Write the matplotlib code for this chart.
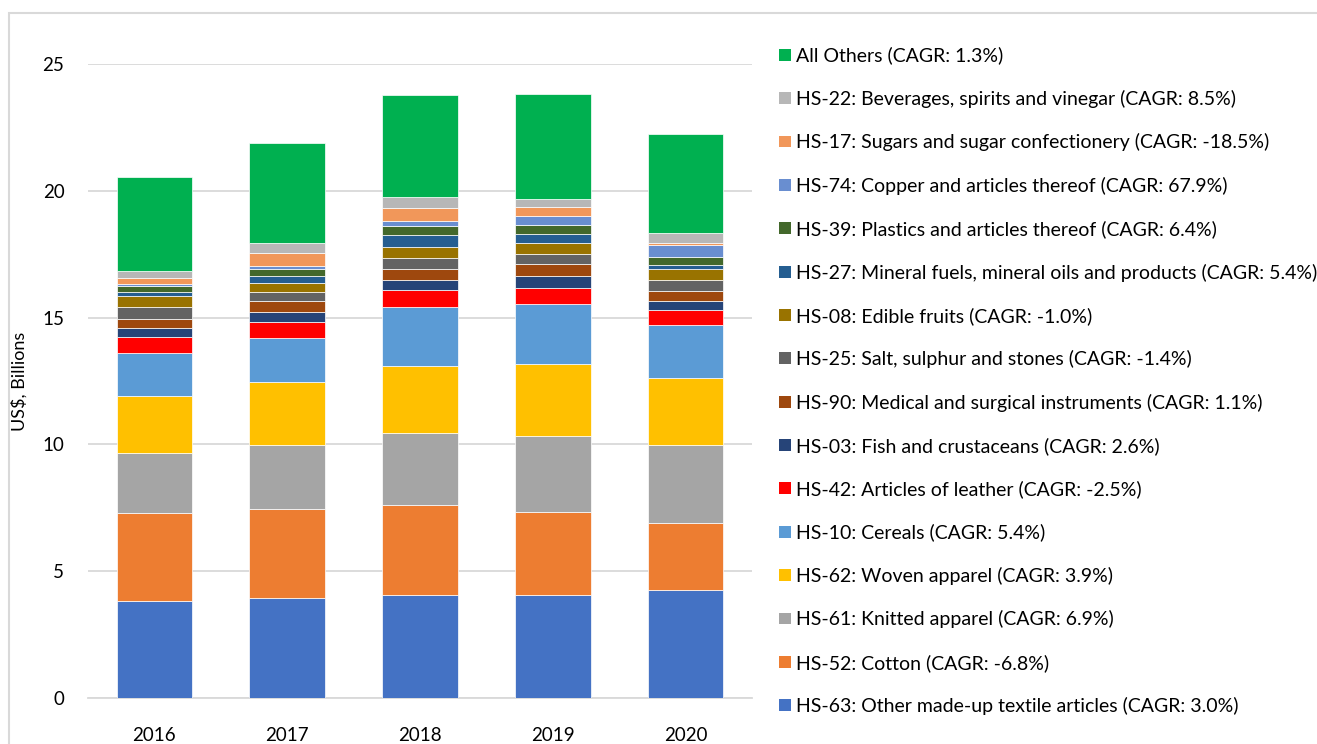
import matplotlib
matplotlib.use("Agg")
import matplotlib.pyplot as plt
from matplotlib.patches import Rectangle, Patch
import numpy as np

plt.rcParams['font.family'] = ['Lato', 'DejaVu Sans']

years = ['2016', '2017', '2018', '2019', '2020']

# series listed bottom -> top of stack
series_names = [
    'HS-63: Other made-up textile articles (CAGR: 3.0%)',
    'HS-52: Cotton (CAGR: -6.8%)',
    'HS-61: Knitted apparel (CAGR: 6.9%)',
    'HS-62: Woven apparel (CAGR: 3.9%)',
    'HS-10: Cereals (CAGR: 5.4%)',
    'HS-42: Articles of leather (CAGR: -2.5%)',
    'HS-03: Fish and crustaceans (CAGR: 2.6%)',
    'HS-90: Medical and surgical instruments (CAGR: 1.1%)',
    'HS-25: Salt, sulphur and stones (CAGR: -1.4%)',
    'HS-08: Edible fruits (CAGR: -1.0%)',
    'HS-27: Mineral fuels, mineral oils and products (CAGR: 5.4%)',
    'HS-39: Plastics and articles thereof (CAGR: 6.4%)',
    'HS-74: Copper and articles thereof (CAGR: 67.9%)',
    'HS-17: Sugars and sugar confectionery (CAGR: -18.5%)',
    'HS-22: Beverages, spirits and vinegar (CAGR: 8.5%)',
    'All Others (CAGR: 1.3%)',
]

hs63 = [3.81, 3.96, 4.06, 4.06, 4.27]
hs52 = [3.48, 3.50, 3.54, 3.26, 2.63]
hs61 = [2.36, 2.52, 2.86, 3.02, 3.08]
hs62 = [2.25, 2.47, 2.62, 2.82, 2.63]
hs10 = [1.70, 1.76, 2.33, 2.36, 2.11]
hs42 = [0.65, 0.63, 0.66, 0.66, 0.57]
hs03 = [0.35, 0.39, 0.43, 0.45, 0.36]
hs90 = [0.36, 0.41, 0.41, 0.47, 0.39]
hs25 = [0.45, 0.38, 0.44, 0.42, 0.43]
hs08 = [0.44, 0.36, 0.44, 0.41, 0.43]
hs27 = [0.16, 0.27, 0.48, 0.38, 0.17]
hs39 = [0.25, 0.26, 0.33, 0.34, 0.33]
hs74 = [0.06, 0.12, 0.20, 0.37, 0.45]
hs17 = [0.24, 0.53, 0.52, 0.34, 0.10]
hs22 = [0.26, 0.38, 0.45, 0.32, 0.37]
others = [3.71, 3.94, 4.00, 4.12, 3.91]

series_values = [hs63, hs52, hs61, hs62, hs10, hs42, hs03, hs90, hs25, hs08,
                 hs27, hs39, hs74, hs17, hs22, others]

colors = ['#4472C4', '#ED7D31', '#A5A5A5', '#FFC000', '#5B9BD5', '#FF0000',
          '#264478', '#9E480E', '#636363', '#997300', '#255E91', '#43682B',
          '#698ED0', '#F1975A', '#B7B7B7', '#00B050']

W, H = 1317, 744
fig = plt.figure(figsize=(W / 100, H / 100), dpi=100)
ax = fig.add_axes([88 / W, (H - 698) / H, (752 - 88) / W, (698 - 64) / H])

# chart border
fig.patches.append(Rectangle((9 / W, -0.1), 1.2, (H - 13) / H + 0.1,
                             transform=fig.transFigure, fill=False,
                             edgecolor='#D9D9D9', linewidth=1.5))

x = np.arange(len(years))
bottom = np.zeros(len(years))
handles = []
for name, vals, c in zip(series_names, series_values, colors):
    ax.bar(x, vals, width=0.57, bottom=bottom, color=c, edgecolor='white',
           linewidth=0.5, label=name, zorder=3)
    bottom += np.array(vals)
    handles.append(Patch(facecolor=c, edgecolor='none', label=name))

ax.set_xlim(-0.5, len(years) - 0.5)
ax.set_ylim(0, 25)
ax.set_yticks([0, 5, 10, 15, 20, 25])
ax.set_xticks(x)
ax.set_xticklabels(years)
ax.yaxis.grid(True, color='#D9D9D9', linewidth=1.3, zorder=0)
ax.set_axisbelow(True)
for s in ['top', 'right', 'left']:
    ax.spines[s].set_visible(False)
ax.spines['bottom'].set_color('#D9D9D9')
ax.spines['bottom'].set_linewidth(1.3)
ax.tick_params(axis='both', length=0, labelsize=13.5, colors='black')
ax.tick_params(axis='y', pad=17)
ax.tick_params(axis='x', pad=21)
ax.set_ylabel('US$, Billions', fontsize=13)
ax.yaxis.set_label_coords((28 - 88) / (752 - 88), 0.5)

fs = 14
fs_px = fs / 72 * 100
leg = fig.legend(handles[::-1], series_names[::-1], loc='upper left',
                 bbox_to_anchor=(779 / W, (H - 46.6) / H), frameon=False,
                 fontsize=fs, handlelength=12 / fs_px, handleheight=11 / fs_px,
                 handletextpad=5 / fs_px, labelspacing=1.305, borderaxespad=0,
                 borderpad=0)

fig.savefig('out.png', dpi=100)
